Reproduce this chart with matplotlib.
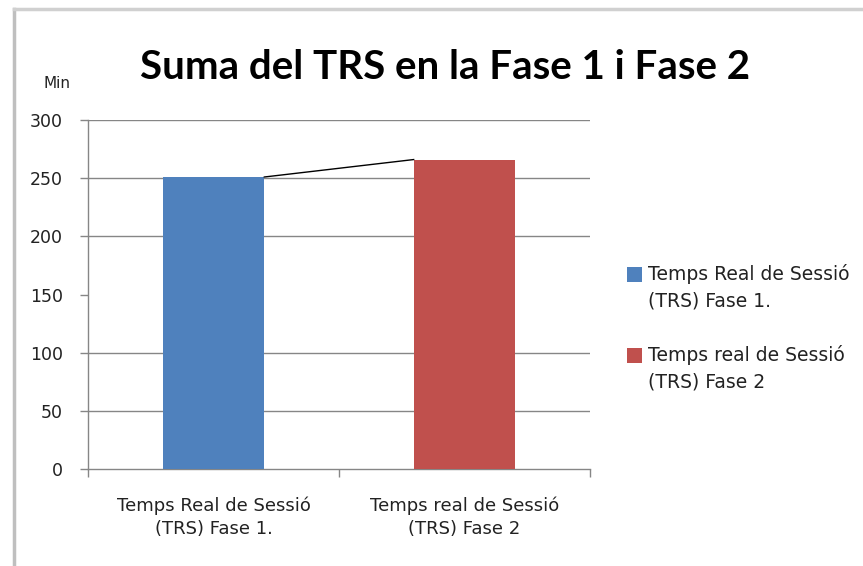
import matplotlib
matplotlib.use("Agg")
import matplotlib.pyplot as plt
from matplotlib.lines import Line2D
from matplotlib.patches import Rectangle

categories = ["Temps Real de Sessió\n(TRS) Fase 1.", "Temps real de Sessió\n(TRS) Fase 2"]
legend_labels = ["Temps Real de Sessió\n(TRS) Fase 1.", "Temps real de Sessió\n(TRS) Fase 2"]
values = [251, 266]
colors = ["#4F81BD", "#C0504D"]
yticks = [0, 50, 100, 150, 200, 250, 300]
title = "Suma del TRS en la Fase 1 i Fase 2"
ylabel = "Min"

plt.rcParams['font.family'] = ['DejaVu Sans']

W, H = 863, 566
fig = plt.figure(figsize=(W / 100, H / 100), dpi=100)
ax = fig.add_axes([88 / W, 1 - 469 / H, 502 / W, 349 / H])

x = list(range(len(values)))
ax.bar(x, values, width=0.405, color=colors, zorder=3)
# connecting line between bar tops
ax.plot([x[0] + 0.2025, x[1] - 0.2025], [values[0], values[1]], color="black", lw=1.0, zorder=4)

ax.set_xlim(-0.5, 1.5)
ax.set_ylim(0, 300)
ax.set_yticks(yticks)
ax.set_yticklabels([str(v) for v in yticks], fontsize=12.5, color="#222222")
ax.set_xticks(x)
ax.set_xticklabels(categories, fontsize=13, color="#222222", linespacing=1.35)
ax.tick_params(axis='x', length=0, pad=20)
ax.tick_params(axis='y', length=6, width=1, color="#868686", pad=12, direction='out')
ax.set_xticks([-0.5, 0.5, 1.5], minor=True)
ax.tick_params(axis='x', which='minor', length=6, width=1, color="#868686")

for v in yticks:
    if v in (0, 150):
        continue
    ax.axhline(v, color="#868686", lw=1.0, zorder=1)

for s in ["top", "right"]:
    ax.spines[s].set_visible(False)
for s in ["left", "bottom"]:
    ax.spines[s].set_color("#868686")
    ax.spines[s].set_linewidth(1.0)

fig.text(0.5158, 0.88, title, family='Lato', fontsize=29, fontweight='bold', ha='center', va='center')
fig.text(57 / W, 1 - 84 / H, ylabel, fontsize=11, ha='center', va='center', color="#222222")

# legend (drawn from the same labels/colours)
entry_y = [274, 355]
for lab, c, yy in zip(legend_labels, colors, entry_y):
    fig.add_artist(Rectangle((627 / W, 1 - (yy + 8) / H), 15 / W, 15 / H,
                             transform=fig.transFigure, facecolor=c, edgecolor='none'))
    fig.text(648 / W, 1 - (yy - 10) / H, lab, fontsize=13.5, ha='left', va='top',
             color="#222222", linespacing=1.5)

# outer frame lines (left and top)
fig.add_artist(Line2D([13.5 / W, 13.5 / W], [0.0, 1 - 9 / H], transform=fig.transFigure, color="#BFBFBF", lw=2.5))
fig.add_artist(Line2D([13.5 / W, 1.0], [1 - 9 / H, 1 - 9 / H], transform=fig.transFigure, color="#D0D0D0", lw=2.5))

fig.savefig("out.png", dpi=100)
